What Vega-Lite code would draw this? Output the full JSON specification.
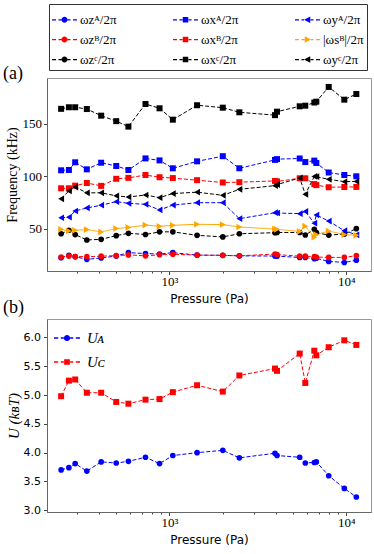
{
  "$schema": "https://vega.github.io/schema/vega-lite/v6.json",
  "padding": {"left": 2, "top": 3, "right": 0, "bottom": 0},
  "background": "white",
  "spacing": 48,
  "bounds": "flush",
  "config": {
    "view": {"stroke": "#999", "strokeWidth": 1},
    "axis": {"grid": false, "domainColor": "#666", "tickColor": "#444", "labelColor": "#000", "titleColor": "#000", "titleFontWeight": "normal"},
    "title": {"color": "#000", "fontWeight": "normal"}
  },
  "datasets": {
    "top": [
      {"P": 244, "zA": 22.5, "zB": 23.2, "zC": 45.3, "xA": 105.6, "xB": 88.5, "xC": 164.0, "yA": 60.5, "sB": 49.5, "yC": 78.5},
      {"P": 270, "zA": 24.8, "zB": 24.1, "zC": 48.6, "xA": 105.9, "xB": 88.5, "xC": 165.5, "yA": 61.0, "sB": 47.9, "yC": 86.0},
      {"P": 293, "zA": 23.5, "zB": 23.6, "zC": 44.5, "xA": 113.2, "xB": 91.0, "xC": 165.5, "yA": 66.9, "sB": 48.6, "yC": 89.7},
      {"P": 341, "zA": 21.0, "zB": 23.5, "zC": 39.4, "xA": 106.5, "xB": 93.5, "xC": 163.8, "yA": 69.8, "sB": 49.3, "yC": 84.2},
      {"P": 411, "zA": 22.3, "zB": 24.0, "zC": 40.0, "xA": 112.8, "xB": 90.8, "xC": 157.5, "yA": 72.4, "sB": 47.0, "yC": 84.2},
      {"P": 500, "zA": 24.1, "zB": 24.5, "zC": 43.5, "xA": 109.7, "xB": 97.5, "xC": 152.3, "yA": 75.8, "sB": 50.3, "yC": 81.3},
      {"P": 586, "zA": 27.3, "zB": 25.2, "zC": 45.7, "xA": 105.9, "xB": 98.4, "xC": 147.1, "yA": 74.2, "sB": 51.3, "yC": 80.2},
      {"P": 732, "zA": 26.5, "zB": 24.3, "zC": 44.6, "xA": 116.9, "xB": 101.1, "xC": 168.6, "yA": 73.3, "sB": 53.5, "yC": 82.1},
      {"P": 879, "zA": 26.0, "zB": 25.3, "zC": 47.1, "xA": 115.0, "xB": 99.0, "xC": 164.5, "yA": 67.9, "sB": 52.4, "yC": 79.6},
      {"P": 1045, "zA": 27.3, "zB": 25.8, "zC": 47.1, "xA": 107.5, "xB": 98.2, "xC": 153.7, "yA": 72.5, "sB": 53.3, "yC": 83.5},
      {"P": 1433, "zA": 25.0, "zB": 25.0, "zC": 43.8, "xA": 114.1, "xB": 96.2, "xC": 167.4, "yA": 74.8, "sB": 54.3, "yC": 84.8},
      {"P": 2003, "zA": 24.8, "zB": 24.8, "zC": 42.3, "xA": 119.0, "xB": 94.0, "xC": 165.1, "yA": 74.8, "sB": 54.0, "yC": 81.8},
      {"P": 2485, "zA": 24.3, "zB": 24.3, "zC": 45.3, "xA": 107.5, "xB": 94.3, "xC": 160.7, "yA": 59.6, "sB": 51.7, "yC": 87.5},
      {"P": 3953, "zA": 24.1, "zB": 26.0, "zC": 46.3, "xA": 115.5, "xB": 95.5, "xC": 158.0, "yA": 65.3, "sB": 49.8, "yC": 91.0},
      {"P": 4059, "zA": 24.0, "zB": 25.5, "zC": 46.5, "xA": 116.2, "xB": 95.0, "xC": 161.3, "yA": 65.0, "sB": 49.5, "yC": 92.0},
      {"P": 5453, "zA": 22.8, "zB": 24.0, "zC": 46.5, "xA": 116.8, "xB": 98.0, "xC": 166.4, "yA": 64.4, "sB": 47.5, "yC": 98.3},
      {"P": 5866, "zA": 22.8, "zB": 24.0, "zC": 44.1, "xA": 113.4, "xB": 98.0, "xC": 167.0, "yA": 66.5, "sB": 52.5, "yC": 82.8},
      {"P": 6596, "zA": 21.5, "zB": 23.5, "zC": 49.5, "xA": 114.8, "xB": 92.5, "xC": 170.0, "yA": 55.3, "sB": 42.0, "yC": 99.8},
      {"P": 6771, "zA": 22.0, "zB": 23.2, "zC": 46.3, "xA": 112.5, "xB": 91.5, "xC": 170.8, "yA": 63.1, "sB": 44.5, "yC": 99.5},
      {"P": 7956, "zA": 19.0, "zB": 22.8, "zC": 44.0, "xA": 103.5, "xB": 89.5, "xC": 184.8, "yA": 57.3, "sB": 47.9, "yC": 97.0},
      {"P": 9750, "zA": 18.0, "zB": 22.8, "zC": 45.0, "xA": 101.1, "xB": 89.7, "xC": 172.7, "yA": 48.2, "sB": 44.5, "yC": 94.8},
      {"P": 11400, "zA": 20.2, "zB": 24.5, "zC": 50.1, "xA": 99.9, "xB": 89.8, "xC": 178.1, "yA": 44.3, "sB": 43.8, "yC": 95.0}
    ],
    "bottom": [
      {"P": 244, "UA": 3.70, "UC": 4.98},
      {"P": 270, "UA": 3.74, "UC": 5.25},
      {"P": 293, "UA": 3.81, "UC": 5.27},
      {"P": 341, "UA": 3.68, "UC": 5.04},
      {"P": 411, "UA": 3.84, "UC": 5.04},
      {"P": 500, "UA": 3.82, "UC": 4.88},
      {"P": 586, "UA": 3.85, "UC": 4.85},
      {"P": 732, "UA": 3.92, "UC": 4.92},
      {"P": 879, "UA": 3.81, "UC": 4.93},
      {"P": 1045, "UA": 3.95, "UC": 5.05},
      {"P": 1433, "UA": 4.00, "UC": 5.17},
      {"P": 2003, "UA": 4.04, "UC": 5.06},
      {"P": 2485, "UA": 3.91, "UC": 5.34},
      {"P": 3953, "UA": 3.99, "UC": 5.46},
      {"P": 4059, "UA": 3.95, "UC": 5.42},
      {"P": 5453, "UA": 3.92, "UC": 5.72},
      {"P": 5866, "UA": 3.82, "UC": 5.21},
      {"P": 6596, "UA": 3.83, "UC": 5.77},
      {"P": 6771, "UA": 3.84, "UC": 5.69},
      {"P": 7956, "UA": 3.60, "UC": 5.83},
      {"P": 9750, "UA": 3.38, "UC": 5.95},
      {"P": 11400, "UA": 3.23, "UC": 5.87}
    ]
  },
  "vconcat": [
    {
      "width": 324,
      "height": 193,
      "title": {"text": "(a)", "orient": "top", "anchor": "start", "frame": "group", "align": "left", "baseline": "alphabetic", "offset": 0, "dx": -44, "dy": 93, "font": "Liberation Serif", "fontSize": 18, "fontWeight": "normal"},
      "data": {"name": "top"},
      "transform": [{"fold": ["zA", "zB", "zC", "xA", "xB", "xC", "yA", "sB", "yC"], "as": ["s", "f"]}],
      "encoding": {
        "x": {
          "field": "P", "type": "quantitative",
          "scale": {"type": "log", "domain": [203, 13800], "nice": false},
          "axis": {
            "title": "Pressure (Pa)", "titleFont": "DejaVu Sans", "titleFontSize": 12, "titlePadding": 5,
            "values": [300, 400, 500, 600, 700, 800, 900, 1000, 2000, 3000, 4000, 5000, 6000, 7000, 8000, 9000, 10000],
            "labelExpr": "datum.value == 1000 ? '10³' : datum.value == 10000 ? '10⁴' : ''",
            "labelFont": "Liberation Serif", "labelFontSize": 13, "labelPadding": 1, "labelOverlap": false, "labelFlush": false,
            "tickSize": {"condition": {"test": "datum.value == 1000 || datum.value == 10000", "value": 3.5}, "value": 2}
          }
        },
        "y": {
          "field": "f", "type": "quantitative",
          "scale": {"domain": [9.9, 193.3], "nice": false, "zero": false},
          "axis": {"title": "Frequency (kHz)", "titleFont": "Liberation Serif", "titleFontSize": 14, "titlePadding": 3, "values": [50, 100, 150], "labelFont": "Liberation Serif", "labelFontSize": 13, "labelPadding": 2, "tickSize": 3.5}
        },
        "color": {
          "field": "s", "type": "nominal",
          "scale": {"domain": ["zA", "zB", "zC", "xA", "xB", "xC", "yA", "sB", "yC"], "range": ["#0000ff", "#ff0000", "#000000", "#0000ff", "#ff0000", "#000000", "#0000ff", "#ffa500", "#000000"]},
          "legend": {
            "orient": "none", "legendX": 2, "legendY": -74, "columns": 3, "columnPadding": 56, "rowPadding": -2,
            "title": null, "padding": 3, "strokeColor": "#333", "fillColor": "white",
            "symbolSize": 625, "symbolStrokeWidth": 0, "labelFont": "Liberation Serif", "labelFontSize": 13, "labelOffset": 3,
            "labelExpr": "{'zA':'ωzᴬ/2π','xA':'ωxᴬ/2π','yA':'ωyᴬ/2π','zB':'ωzᴮ/2π','xB':'ωxᴮ/2π','sB':'|ωsᴮ|/2π','zC':'ωzᶜ/2π','xC':'ωxᶜ/2π','yC':'ωyᶜ/2π'}[datum.value]",
            "encode": {
              "symbols": {
                "update": {
                  "shape": {"signal": "indexof(datum.value,'z')==0 ? 'M-1,-0.05H-0.68V0.05H-1ZM-0.48,-0.05H-0.24V0.05H-0.48ZM0.24,0A0.24,0.24,0,1,1,-0.24,0A0.24,0.24,0,1,1,0.24,0ZM0.24,-0.05H0.48V0.05H0.24ZM0.68,-0.05H1V0.05H0.68Z' : indexof(datum.value,'x')==0 ? 'M-1,-0.05H-0.68V0.05H-1ZM-0.48,-0.05H-0.24V0.05H-0.48ZM-0.22,-0.22H0.22V0.22H-0.22ZM0.24,-0.05H0.48V0.05H0.24ZM0.68,-0.05H1V0.05H0.68Z' : indexof(datum.value,'s')==0 ? 'M-1,-0.05H-0.68V0.05H-1ZM-0.48,-0.05H-0.24V0.05H-0.48ZM0.28,0L-0.22,-0.26L-0.22,0.26ZM0.28,-0.05H0.48V0.05H0.28ZM0.68,-0.05H1V0.05H0.68Z' : 'M-1,-0.05H-0.68V0.05H-1ZM-0.48,-0.05H-0.28V0.05H-0.48ZM-0.28,0L0.22,-0.26L0.22,0.26ZM0.24,-0.05H0.48V0.05H0.24ZM0.68,-0.05H1V0.05H0.68Z'"},
                  "size": {"value": 625},
                  "fill": {"signal": "datum.value=='sB' ? '#ffa500' : indexof(datum.value,'A')>0 ? '#0000ff' : indexof(datum.value,'B')>0 ? '#ff0000' : '#000000'"},
                  "stroke": {"value": "transparent"},
                  "strokeWidth": {"value": 0},
                  "opacity": {"value": 1},
                  "fillOpacity": {"value": 1}
                }
              }
            }
          }
        }
      },
      "layer": [
        {
          "mark": {"type": "line", "strokeWidth": 1},
          "encoding": {
            "strokeDash": {"field": "s", "type": "nominal", "legend": null,
              "scale": {"domain": ["zA", "zB", "zC", "xA", "xB", "xC", "yA", "sB", "yC"], "range": [[4, 2], [4, 2], [4, 2], [4, 2], [4, 2], [4, 2], [4, 2], [1, 0], [4, 2]]}}
          }
        },
        {
          "transform": [{"filter": "indexof(datum.s, 'z') == 0"}],
          "mark": {"type": "point", "shape": "circle", "size": 32, "filled": true, "opacity": 1}
        },
        {
          "transform": [{"filter": "indexof(datum.s, 'x') == 0"}],
          "mark": {"type": "point", "shape": "square", "size": 36, "filled": true, "opacity": 1}
        },
        {
          "transform": [{"filter": "indexof(datum.s, 'y') == 0"}],
          "mark": {"type": "point", "shape": "triangle-left", "size": 45, "filled": true, "opacity": 1}
        },
        {
          "transform": [{"filter": "datum.s == 'sB'"}],
          "mark": {"type": "point", "shape": "triangle-right", "size": 45, "filled": true, "opacity": 1}
        }
      ]
    },
    {
      "width": 324,
      "height": 193,
      "title": {"text": "(b)", "orient": "top", "anchor": "start", "frame": "group", "align": "left", "baseline": "alphabetic", "offset": 0, "dx": -44, "dy": 12, "font": "Liberation Serif", "fontSize": 18, "fontWeight": "normal"},
      "data": {"name": "bottom"},
      "transform": [{"fold": ["UA", "UC"], "as": ["s", "u"]}],
      "encoding": {
        "x": {
          "field": "P", "type": "quantitative",
          "scale": {"type": "log", "domain": [203, 13800], "nice": false},
          "axis": {
            "title": "Pressure (Pa)", "titleFont": "DejaVu Sans", "titleFontSize": 12, "titlePadding": 5,
            "values": [300, 400, 500, 600, 700, 800, 900, 1000, 2000, 3000, 4000, 5000, 6000, 7000, 8000, 9000, 10000],
            "labelExpr": "datum.value == 1000 ? '10³' : datum.value == 10000 ? '10⁴' : ''",
            "labelFont": "Liberation Serif", "labelFontSize": 13, "labelPadding": 1, "labelOverlap": false, "labelFlush": false,
            "tickSize": {"condition": {"test": "datum.value == 1000 || datum.value == 10000", "value": 3.5}, "value": 2}
          }
        },
        "y": {
          "field": "u", "type": "quantitative",
          "scale": {"domain": [2.97, 6.32], "nice": false, "zero": false},
          "axis": {"title": "U (kʙT)", "titleFont": "Liberation Serif", "titleFontStyle": "italic", "titleFontSize": 15, "titlePadding": 2, "values": [3.0, 3.5, 4.0, 4.5, 5.0, 5.5, 6.0], "format": ".1f", "labelFont": "DejaVu Sans", "labelFontSize": 11, "labelPadding": 3, "tickSize": 3.5}
        },
        "color": {
          "field": "s", "type": "nominal",
          "scale": {"domain": ["UA", "UC"], "range": ["#0000ff", "#ff0000"]},
          "legend": {
            "orient": "none", "legendX": 7, "legendY": 6, "rowPadding": 3, "title": null, "padding": 0,
            "symbolSize": 676, "symbolStrokeWidth": 0, "labelFont": "Liberation Serif", "labelFontStyle": "italic", "labelFontSize": 15, "labelOffset": 7,
            "labelExpr": "datum.value == 'UA' ? 'Uᴀ' : 'Uᴄ'",
            "encode": {
              "symbols": {
                "update": {
                  "shape": {"signal": "datum.value=='UA' ? 'M-1,-0.05H-0.68V0.05H-1ZM-0.48,-0.05H-0.24V0.05H-0.48ZM0.24,0A0.24,0.24,0,1,1,-0.24,0A0.24,0.24,0,1,1,0.24,0ZM0.24,-0.05H0.48V0.05H0.24ZM0.68,-0.05H1V0.05H0.68Z' : 'M-1,-0.05H-0.68V0.05H-1ZM-0.48,-0.05H-0.24V0.05H-0.48ZM-0.22,-0.22H0.22V0.22H-0.22ZM0.24,-0.05H0.48V0.05H0.24ZM0.68,-0.05H1V0.05H0.68Z'"},
                  "size": {"value": 676},
                  "fill": {"signal": "datum.value=='UA' ? '#0000ff' : '#ff0000'"},
                  "stroke": {"value": "transparent"},
                  "strokeWidth": {"value": 0},
                  "opacity": {"value": 1},
                  "fillOpacity": {"value": 1}
                }
              }
            }
          }
        }
      },
      "layer": [
        {
          "mark": {"type": "line", "strokeWidth": 1, "strokeDash": [4, 2]},
          "encoding": {}
        },
        {
          "transform": [{"filter": "datum.s == 'UA'"}],
          "mark": {"type": "point", "shape": "circle", "size": 32, "filled": true, "opacity": 1}
        },
        {
          "transform": [{"filter": "datum.s == 'UC'"}],
          "mark": {"type": "point", "shape": "square", "size": 36, "filled": true, "opacity": 1}
        }
      ]
    }
  ],
  "resolve": {
    "scale": {"color": "independent", "strokeDash": "independent", "x": "independent", "y": "independent"},
    "legend": {"color": "independent", "strokeDash": "independent"}
  }
}
